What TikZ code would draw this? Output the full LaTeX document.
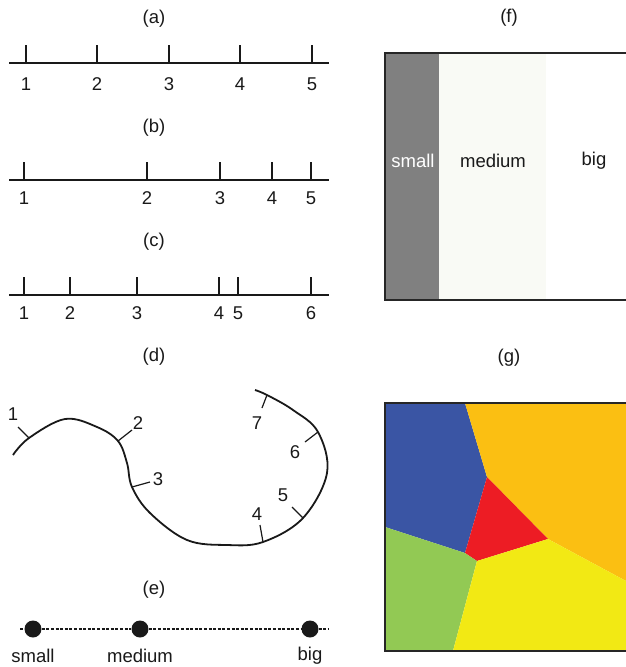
\documentclass[tikz,border=0pt]{standalone}
\usepackage{fontspec}
\setmainfont{Liberation Sans}
\definecolor{vblue}{HTML}{3A55A4}
\definecolor{vorange}{HTML}{FBBF12}
\definecolor{vred}{HTML}{ED1C24}
\definecolor{vgreen}{HTML}{92C954}
\definecolor{vyellow}{HTML}{F2E914}
\definecolor{sgrey}{HTML}{808080}
\definecolor{smed}{HTML}{F9FAF5}
\begin{document}
\begin{tikzpicture}[x=1pt,y=-1pt,
  txt/.style={font=\fontsize{18.5}{20}\selectfont, inner sep=0pt, text=black!90},
  axisline/.style={line width=1.8pt, black!90},
  tick/.style={line width=1.2pt, black!90},
  dot/.style={circle, fill=black!90, minimum size=17pt, inner sep=0pt}]
\useasboundingbox (0,0) rectangle (626,667);
% (a)
\node[txt] (la) at (154,19) {(a)};
\draw[axisline] (9,63) -- (329,63);
\foreach \x/\l in {26/1,97/2,169/3,240/4,312/5}{
  \draw[tick] (\x,63) -- (\x,45);
  \node[txt] at (\x,84) {\l};}
% (b)
\node[txt] (lb) at (154,128) {(b)};
\draw[axisline] (9,180) -- (329,180);
\foreach \x/\l in {24/1,147/2,220/3,272/4,311/5}{
  \draw[tick] (\x,180) -- (\x,162);
  \node[txt] at (\x,198) {\l};}
% (c)
\node[txt] (lc) at (154,242) {(c)};
\draw[axisline] (9,295) -- (329,295);
\foreach \x/\l in {24/1,70/2,137/3,219/4,238/5,311/6}{
  \draw[tick] (\x,295) -- (\x,277);
  \node[txt] at (\x,313) {\l};}
% (d)
\node[txt] (ld) at (154,357) {(d)};
\draw[line width=1.8pt, black!90] plot[smooth, tension=0.6] coordinates {
 (13,455) (29,438) (65,419) (97,427) (118,441) (127,463) (132,487)
 (150,513) (187,540) (227,545) (263,542) (303,518) (327,473) (318,432)
 (293,410) (267,395) (255,390)};
\draw[tick] (29,438) -- (18,427);  \node[txt] at (13,414) {1};
\draw[tick] (118,441) -- (132,430); \node[txt] at (138,423) {2};
\draw[tick] (132,487) -- (150,482); \node[txt] at (158,479) {3};
\draw[tick] (263,542) -- (260,525); \node[txt] at (257,514) {4};
\draw[tick] (303,518) -- (292,507); \node[txt] at (283,495) {5};
\draw[tick] (318,432) -- (305,442); \node[txt] at (295,452) {6};
\draw[tick] (267,395) -- (262,408); \node[txt] at (257,423) {7};
% (e)
\node[txt] (le) at (154,590) {(e)};
\coordinate (el) at (20,629);
\coordinate (er) at (328,629);
\node[dot] (s) at (33,629) {};
\node[dot] (m) at (140,629) {};
\node[dot] (b) at (310,629) {};
\draw[line width=1.1pt, dash pattern=on 3pt off 1.6pt, black!90] (el) -- (s) -- (m) -- (b) -- (er);
\node[txt] at (33,656) {small};
\node[txt] at (140,656) {medium};
\node[txt] at (310,656) {big};
% (f)
\node[txt] (lf) at (509,18) {(f)};
\fill[sgrey] (385,53) rectangle (439,300);
\fill[smed] (439,53) rectangle (546,300);
\draw[line width=2.6pt, black!85] (626,53) -- (385,53) -- (385,300) -- (626,300);
\node[txt, text=white] at (413,161) {small};
\node[txt] at (493,161) {medium};
\node[txt] at (594,161) {big};
% (g)
\node[txt] (lg) at (509,358) {(g)};
\fill[vblue] (385,403) -- (465,403) -- (487,477) -- (465,553) -- (385,527) -- cycle;
\fill[vorange] (465,403) -- (626,403) -- (626,581) -- (548,539) -- (487,477) -- cycle;
\fill[vred] (487,477) -- (548,539) -- (477,561) -- (465,553) -- cycle;
\fill[vgreen] (385,527) -- (465,553) -- (477,561) -- (453,651) -- (385,651) -- cycle;
\fill[vyellow] (477,561) -- (548,539) -- (626,581) -- (626,651) -- (453,651) -- cycle;
\draw[line width=2.6pt, black!85] (626,403) -- (385,403) -- (385,651) -- (626,651);
\end{tikzpicture}
\end{document}
